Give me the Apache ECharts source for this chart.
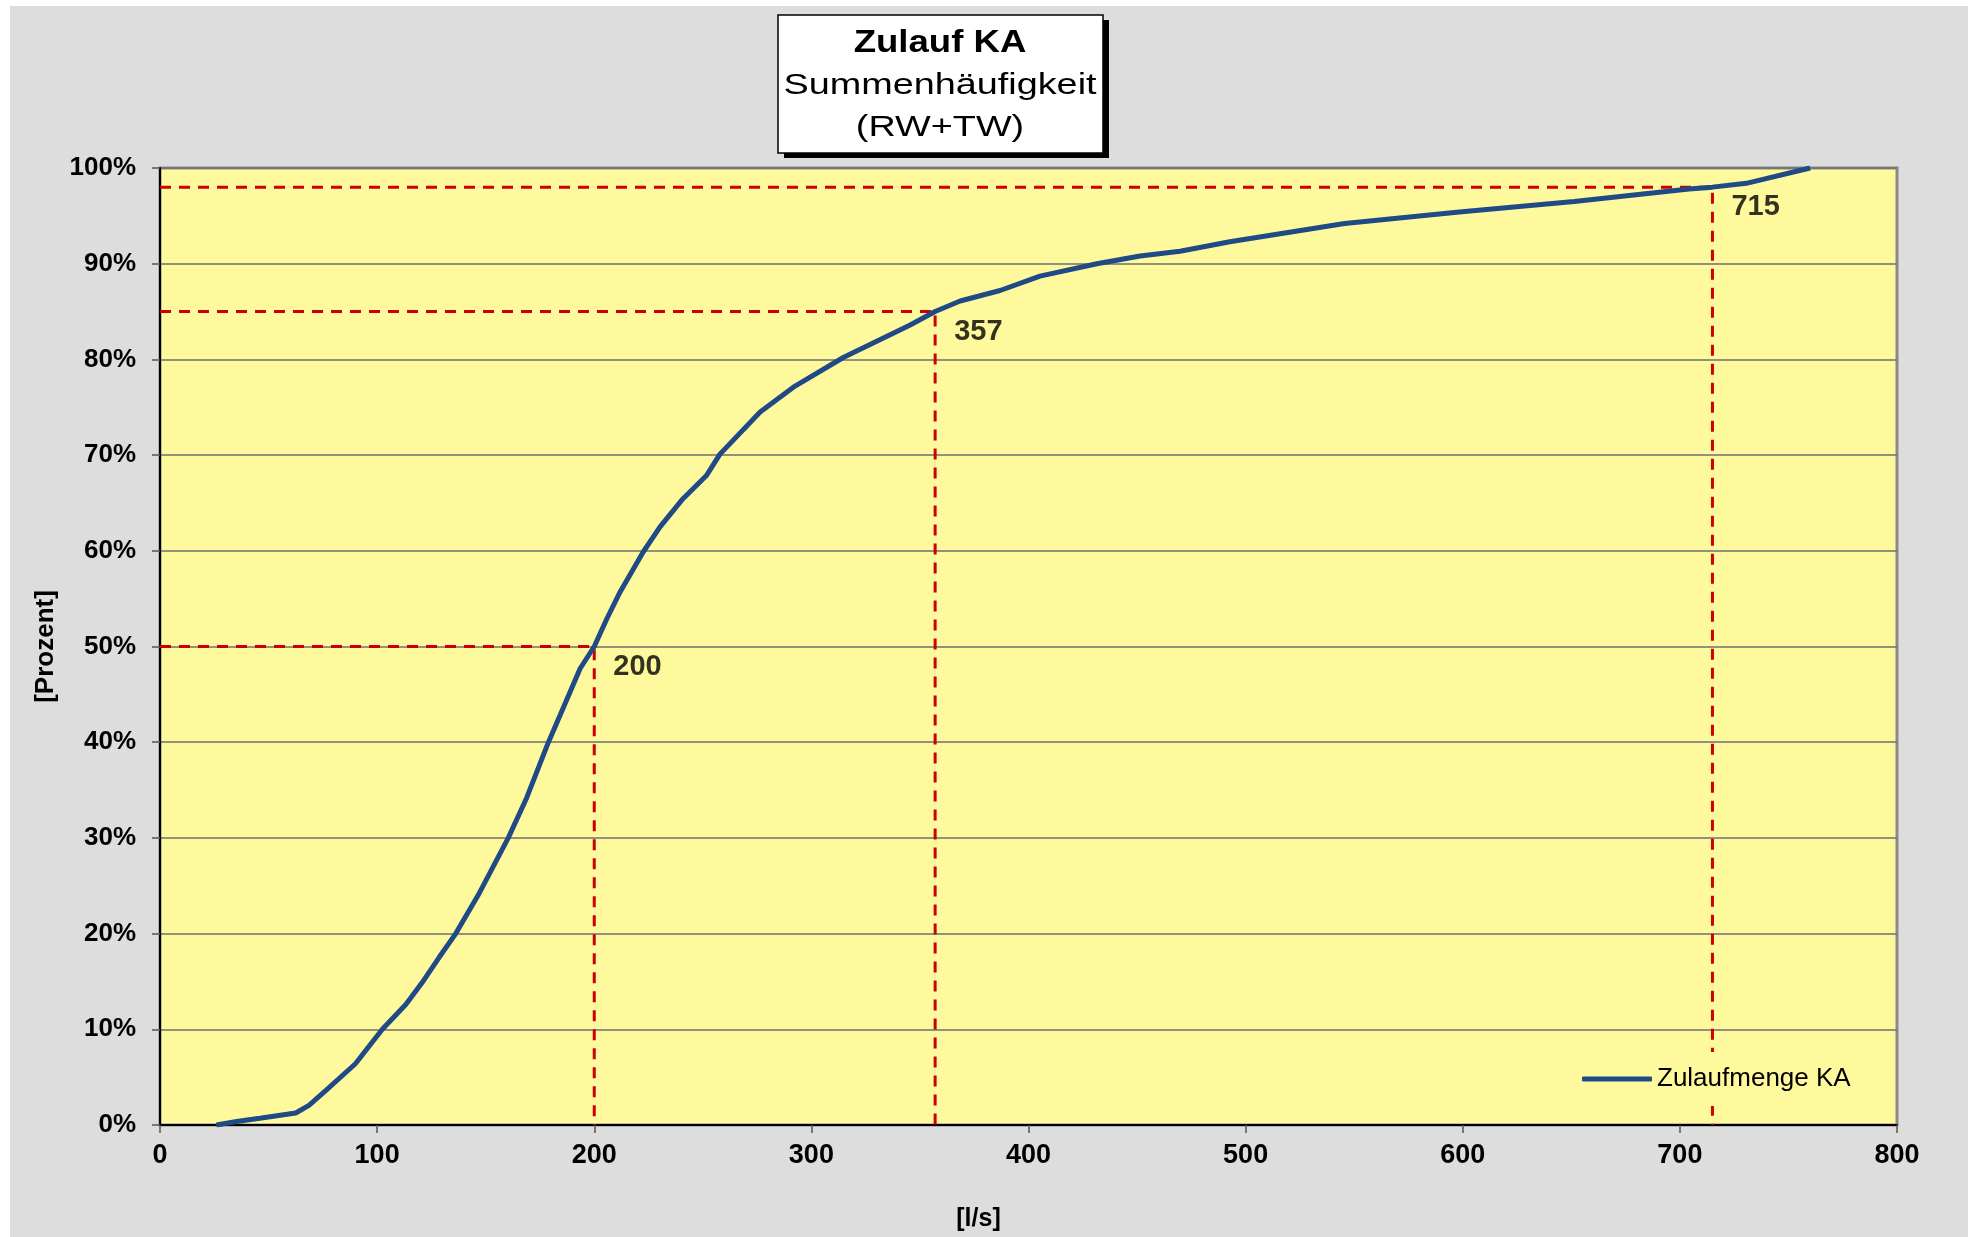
<!DOCTYPE html>
<html>
<head>
<meta charset="utf-8">
<script src="https://cdn.jsdelivr.net/npm/echarts@6/dist/echarts.min.js"></script>
<style>
  html, body { margin: 0; padding: 0; background: #ffffff; }
  #bg { position: absolute; left: 10px; top: 6px; width: 1958px; height: 1231px; background: #DDDDDD; }
  #chart { position: absolute; left: 0; top: 0; width: 1968px; height: 1237px; }
</style>
</head>
<body>
<div id="bg"></div>
<div id="chart"></div>
<script>
// Cumulative frequency curve: flow [l/s] vs. cumulative percentage [%]
const flowValues = [26, 36, 46, 62.5, 68.6, 76.3, 90, 102.4, 113.2, 120.5, 128.5, 136.2, 146.5, 160.4, 168.9, 178.9, 185, 193.5, 200, 205.8, 211.9, 222.6, 230.3, 240.3, 251.8, 257.9, 276.4, 291.7, 314.7, 345.5, 357, 368.5, 386.9, 405.3, 431.5, 451.4, 469.8, 492.7, 545.6, 598.4, 651.3, 704.2, 715, 730.6, 760];
const cumPercent = [0, 0.4, 0.7, 1.25, 2.05, 3.6, 6.4, 10.0, 12.6, 14.8, 17.5, 20, 24, 30, 34.2, 40, 43.2, 47.7, 50, 52.9, 55.7, 59.9, 62.5, 65.3, 67.9, 70.1, 74.5, 77.1, 80.2, 83.6, 85, 86.1, 87.2, 88.7, 90, 90.8, 91.3, 92.3, 94.2, 95.4, 96.5, 97.8, 98, 98.4, 100];

// Reference markers (flow at given percentile)
const refFlows = [200, 357, 715];
const refPercents = [50, 85, 98];

const xTicks = [0, 100, 200, 300, 400, 500, 600, 700, 800];
const yTicks = [0, 10, 20, 30, 40, 50, 60, 70, 80, 90, 100];

const titleLines = ['Zulauf KA', 'Summenhäufigkeit', '(RW+TW)'];
const seriesName = 'Zulaufmenge KA';
const xName = '[l/s]';
const yName = '[Prozent]';

const FONT = '"Liberation Sans", Arial, sans-serif';

const chart = echarts.init(document.getElementById('chart'), null, { renderer: 'canvas' });

const curveData = flowValues.map((v, i) => [v, cumPercent[i]]);

const refSeries = refFlows.map((f, i) => ({
  type: 'line',
  name: 'ref' + i,
  data: [[xTicks[0], refPercents[i]], [f, refPercents[i]], [f, yTicks[0]]],
  symbol: 'none',
  silent: true,
  z: 3,
  lineStyle: { color: '#CC0000', width: 3, type: [11, 8] },
  animation: false
}));

const option = {
  backgroundColor: 'transparent',
  animation: false,
  textStyle: { fontFamily: FONT },
  grid: {
    left: 160, right: 71, top: 168, bottom: 109,
    show: true,
    backgroundColor: '#FFF99E',
    borderColor: '#8a8a8a',
    borderWidth: 3
  },
  legend: {
    data: [seriesName],
    left: 1572, top: 1052,
    icon: 'roundRect',
    itemWidth: 70, itemHeight: 5,
    itemGap: 8,
    padding: [14, 10, 14, 10],
    backgroundColor: '#FFF99E',
    textStyle: { fontFamily: FONT, fontSize: 26, color: '#000' },
    z: 10
  },
  xAxis: {
    type: 'value',
    min: xTicks[0], max: xTicks[xTicks.length - 1], interval: 100,
    name: xName,
    nameLocation: 'middle',
    nameGap: 82,
    nameTextStyle: { fontFamily: FONT, fontSize: 25, fontWeight: 'bold', color: '#000', padding: [0, 100, 0, 0] },
    axisLine: { show: true, onZero: false, lineStyle: { color: '#000', width: 2 } },
    axisTick: { show: true, length: 8, lineStyle: { color: '#555', width: 1.5 } },
    axisLabel: { fontFamily: FONT, fontSize: 27, fontWeight: 'bold', color: '#000', margin: 17 },
    splitLine: { show: false }
  },
  yAxis: {
    type: 'value',
    min: yTicks[0], max: yTicks[yTicks.length - 1], interval: 10,
    name: yName,
    nameLocation: 'middle',
    nameGap: 98,
    nameRotate: 90,
    nameTextStyle: { fontFamily: FONT, fontSize: 26, fontWeight: 'bold', color: '#000' },
    axisLine: { show: true, onZero: false, lineStyle: { color: '#000', width: 2 } },
    axisTick: { show: true, length: 8, lineStyle: { color: '#555', width: 1.5 } },
    axisLabel: { fontFamily: FONT, fontSize: 26, fontWeight: 'bold', color: '#000', margin: 24, formatter: '{value}%' },
    splitLine: { show: true, lineStyle: { color: '#6e6e6e', width: 1.5 } }
  },
  series: [
    ...refSeries,
    {
      type: 'line',
      name: seriesName,
      data: curveData,
      symbol: 'none',
      z: 5,
      lineStyle: { color: '#1F4A85', width: 5 },
      itemStyle: { color: '#1F4A85' }
    },
    {
      type: 'scatter',
      name: 'refLabels',
      data: refFlows.map((f, i) => [f, refPercents[i]]),
      symbolSize: 0,
      silent: true,
      z: 6,
      label: {
        show: true,
        position: 'right',
        distance: 19,
        offset: [0, 20],
        formatter: p => String(p.value[0]),
        fontFamily: FONT, fontSize: 29, fontWeight: 'bold', color: '#000'
      }
    }
  ],
  graphic: [
    {
      type: 'group',
      z: 100,
      children: [
        { type: 'rect', shape: { x: 784, y: 20, width: 325, height: 138 }, style: { fill: '#000' } },
        { type: 'rect', shape: { x: 778, y: 15, width: 325, height: 138 }, style: { fill: '#fff', stroke: '#000', lineWidth: 1.5 } },
        { type: 'text', x: 940, y: 43, scaleX: 1.18, style: { text: titleLines[0], x: 0, y: 0, textAlign: 'center', textVerticalAlign: 'middle', font: 'bold 31px ' + FONT, fill: '#000' } },
        { type: 'text', x: 940, y: 86, scaleX: 1.26, style: { text: titleLines[1], x: 0, y: 0, textAlign: 'center', textVerticalAlign: 'middle', font: '30px ' + FONT, fill: '#000' } },
        { type: 'text', x: 940, y: 128, scaleX: 1.26, style: { text: titleLines[2], x: 0, y: 0, textAlign: 'center', textVerticalAlign: 'middle', font: '30px ' + FONT, fill: '#000' } }
      ]
    }
  ]
};

chart.setOption(option);
</script>
</body>
</html>
